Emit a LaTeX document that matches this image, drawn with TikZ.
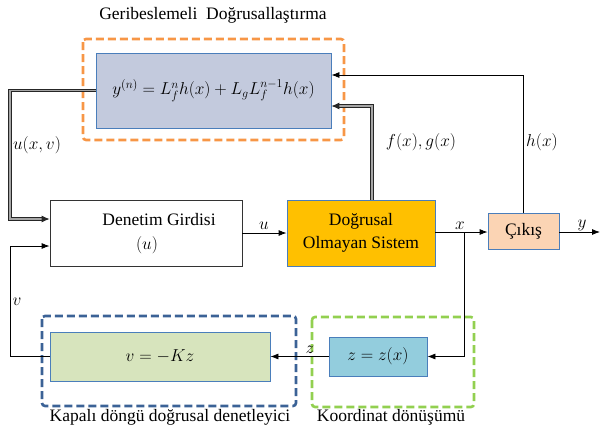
\documentclass[tikz,border=0pt]{standalone}
\usepackage{fontspec}
\setmainfont{Liberation Serif}
\usetikzlibrary{arrows.meta,calc,shadows}
\definecolor{bordblue}{HTML}{4A7EBB}
\definecolor{flfill}{HTML}{C3CADD}
\definecolor{sysfill}{HTML}{FFC000}
\definecolor{cikfill}{HTML}{FBD4B4}
\definecolor{zfill}{HTML}{93CDDD}
\definecolor{vfill}{HTML}{D7E4BD}
\definecolor{dorange}{HTML}{F79646}
\definecolor{dgreen}{HTML}{92D050}
\definecolor{dblue}{HTML}{3B6296}
\tikzset{
  blk/.style={draw=bordblue, line width=0.8pt, minimum width=#1, inner sep=0pt, align=center,
    drop shadow={shadow xshift=1.2pt, shadow yshift=-1.2pt, opacity=0.25}},
  grp/.style={line width=2.6pt, dash pattern=on 8pt off 4pt, rounded corners=3pt},
  conn/.style={line width=0.8pt, -{Latex[length=8pt,width=6pt]}},
  dconn/.style={draw=black!85, double=black!35, double distance=1.4pt, line width=0.9pt, line join=miter, -{Latex[length=8pt,width=7pt]}},
  lbl/.style={inner sep=0pt},
}
\begin{document}
\begin{tikzpicture}[x=1pt,y=-1pt,font=\rmfamily\fontsize{17.5}{20}\selectfont]
\useasboundingbox (0,0) rectangle (600,432);
% groups
\draw[grp, draw=dorange] (83,39) rectangle (344,140);
\draw[grp, draw=dblue] (42,316) rectangle (296,406);
\draw[grp, draw=dgreen] (312,317) rectangle (474,407);
% blocks
\node[blk=235pt, fill=flfill, minimum height=75pt] (fl) at (213.5,90.5) {$y^{(n)}=L_f^n h(x)+L_gL_f^{n-1}h(x)$};
\node[blk=192pt, draw=black!80, fill=white, minimum height=66pt, drop shadow={opacity=0}] (dg) at (146,233) {};
\node[blk=148pt, fill=sysfill, minimum height=66pt] (sys) at (361,233) {Doğrusal\\[3pt]Olmayan Sistem};
\node[blk=71pt, fill=cikfill, minimum height=36pt] (cik) at (523.5,231) {Çıkış};
\node[blk=98pt, fill=zfill, minimum height=39pt] (zb) at (378,356.5) {$z=z(x)$};
\node[blk=220pt, fill=vfill, minimum height=49pt] (vb) at (160,356.5) {$v=-Kz$};
\node[lbl] (dgt1) at (159,220) {Denetim Girdisi};
\node[lbl] (dgt2) at (147,245) {$(u)$};
% titles
\node[lbl] (t1) at (213,15) {Geribeslemeli\ \ Doğrusallaştırma};
\node[lbl] (t2) at (170,417) {Kapalı döngü doğrusal denetleyici};
\node[lbl] (t3) at (391,417) {Koordinat dönüşümü};
% coordinates
\coordinate (yend) at (600,232);
\coordinate (xb) at (464,232);
\coordinate (lx1) at (10,90.5);
\coordinate (lx2) at (10,356.5);
% connectors
\draw[conn] (dg.east) -- (sys.west);
\draw[conn] ([yshift=1pt]sys.east) -- ([yshift=-1pt]cik.west);
\draw[conn] ([yshift=-1pt]cik.east) -- (yend);
\draw[conn] (xb) |- (zb.east);
\draw[conn] (zb.west) -- (vb.east);
\draw[conn] (vb.west) -- (lx2) |- ([yshift=-13pt]dg.west);
\draw[dconn] (fl.west) -- (lx1) |- ([yshift=14pt]dg.west);
\draw[dconn] ([xshift=11pt]sys.north) |- ([yshift=-15.5pt]fl.east);
\draw[conn] (cik.north) |- ([yshift=15.5pt]fl.east);
% labels
\node[lbl] (l1) at (37,145) {$u(x,v)$};
\node[lbl] (l2) at (421,142) {$f(x),g(x)$};
\node[lbl] (l3) at (542,142) {$h(x)$};
\node[lbl] (l4) at (264,226) {$u$};
\node[lbl] (l5) at (460,226) {$x$};
\node[lbl] (l6) at (582,225) {$y$};
\node[lbl] (l7) at (310,350) {$z$};
\node[lbl] (l8) at (17,302) {$v$};
\end{tikzpicture}
\end{document}
